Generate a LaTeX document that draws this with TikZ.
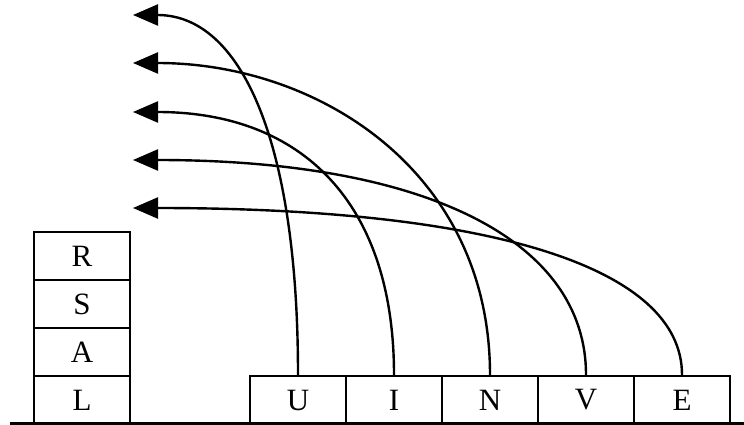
\documentclass[tikz,border=0pt]{standalone}
\usepackage{fontspec}
\setmainfont{Liberation Serif}
\usetikzlibrary{arrows.meta}
\begin{document}
\begin{tikzpicture}[x=1pt,y=-1pt,
  cell/.style={draw,line width=2.4pt,minimum width=96pt,minimum height=48pt,inner sep=0pt,font=\fontsize{31}{31}\selectfont},
  curve/.style={line width=2.4pt,-{Triangle[length=25pt,width=21pt]}}]
\useasboundingbox (0,0) rectangle (744,425);
% bottom line
\coordinate (l0) at (10,423.5);
\coordinate (l1) at (744,423.5);
\draw[line width=2.4pt] (l0) -- (l1);
% stack
\node[cell] (L) at (82,400) {L};
\node[cell] (A) at (82,352) {A};
\node[cell] (S) at (82,304) {S};
\node[cell] (R) at (82,256) {R};
% row
\node[cell] (U) at (298,400) {U};
\node[cell] (I) at (394,400) {I};
\node[cell] (N) at (490,400) {N};
\node[cell] (V) at (586,400) {V};
\node[cell] (E) at (682,400) {E};
% arrow targets
\coordinate (t1) at (133,15);
\coordinate (t2) at (133,63);
\coordinate (t3) at (133,112);
\coordinate (t4) at (133,160);
\coordinate (t5) at (133,208);
% curves
\draw[curve] (U.north) .. controls (298,141) and (241,15) .. (t1);
\draw[curve] (I.north) .. controls (394,204) and (303,112) .. (t3);
\draw[curve] (N.north) .. controls (490,172) and (319,63) .. (t2);
\draw[curve] (V.north) .. controls (586,241) and (427,160) .. (t4);
\draw[curve] (E.north) .. controls (682,267) and (490,208) .. (t5);
\end{tikzpicture}
\end{document}
